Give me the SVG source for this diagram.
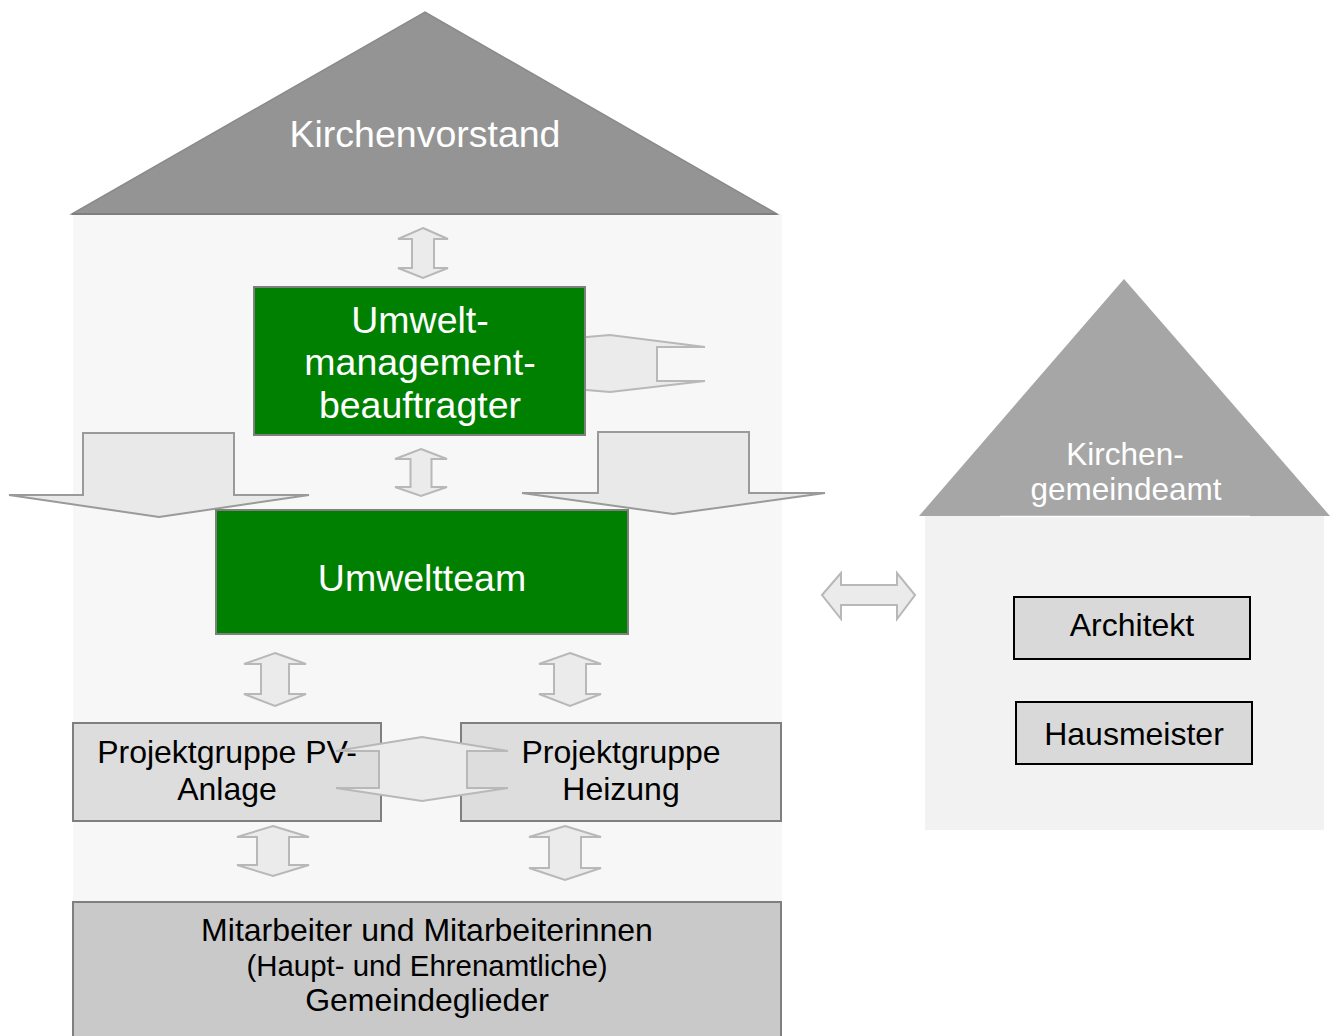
<svg xmlns="http://www.w3.org/2000/svg" width="1333" height="1036" viewBox="0 0 1333 1036">
<style>
text{font-family:"Liberation Sans",Arial,sans-serif;text-anchor:middle}
.w{fill:#ffffff}
.k{fill:#000000}
.green{fill:#008000;stroke:#7f7f7f;stroke-width:2}
.proj{fill:#dddddd;stroke:#7f7f7f;stroke-width:2}
.small{fill:#d9d9d9;stroke:#000000;stroke-width:2}
.dbl{fill:#ebebeb;stroke:#b8b8b8;stroke-width:2;stroke-linejoin:miter}
.big{fill:#e9e9e9;stroke:#9a9a9a;stroke-width:2}
</style>
<rect width="1333" height="1036" fill="#ffffff"/>
<g id="house-left">
<rect x="73" y="214" width="709" height="822" fill="#f7f7f7"/>
<polygon points="72,214 425,12 777,214" fill="#949494" stroke="#8a8a8a" stroke-width="1.5"/>
<line x1="72" y1="214" x2="777" y2="214" stroke="#7f7f7f" stroke-width="2"/>
<text class="w" x="425" y="147" font-size="37.5">Kirchenvorstand</text>
</g>
<g id="house-right">
<rect x="925" y="516" width="399" height="314" fill="#f2f2f2"/>
<polygon points="919,516 1124,279 1330,516" fill="#a6a6a6"/>
<line x1="1000" y1="516.5" x2="1250" y2="516.5" stroke="#ffffff" stroke-width="1.5"/>
<text class="w" x="1125" y="465" font-size="31.5">Kirchen-</text>
<text class="w" x="1126" y="500" font-size="31.5">gemeindeamt</text>
</g>
<g id="pv">
<rect class="proj" x="73" y="723" width="308" height="98"/>
<text class="k" x="227" y="763" font-size="32">Projektgruppe PV-</text>
<text class="k" x="227" y="800" font-size="32">Anlage</text>
</g>
<g id="heizung">
<rect class="proj" x="461" y="723" width="320" height="98"/>
<text class="k" x="621" y="763" font-size="32">Projektgruppe</text>
<text class="k" x="621" y="800" font-size="32">Heizung</text>
</g>
<g id="mitarbeiter">
<rect x="73" y="902" width="708" height="140" fill="#c9c9c9" stroke="#7f7f7f" stroke-width="2"/>
<text class="k" x="427" y="941" font-size="32">Mitarbeiter und Mitarbeiterinnen</text>
<text class="k" x="427" y="976" font-size="29.4">(Haupt- und Ehrenamtliche)</text>
<text class="k" x="427" y="1011" font-size="32">Gemeindeglieder</text>
</g>
<g id="connectors">
<path class="dbl" d="M423,228 L448,239 L434,239 L434,268 L448,268 L423,278 L398,268 L412,268 L412,239 L398,239 Z"/>
<path class="dbl" d="M421,449 L447,459 L431.5,459 L431.5,487 L447,487 L421,496 L395,487 L410.5,487 L410.5,459 L395,459 Z"/>
<path class="dbl" d="M275,653 L306,664 L289,664 L289,694 L306,694 L275,706 L244,694 L261,694 L261,664 L244,664 Z"/>
<path class="dbl" d="M570,653 L601,664 L586,664 L586,694 L601,694 L570,706 L539,694 L554,694 L554,664 L539,664 Z"/>
<path class="dbl" d="M273,826 L309,837 L289,837 L289,865 L309,865 L273,876 L237,865 L257,865 L257,837 L237,837 Z"/>
<path class="dbl" d="M565,826 L601,837 L581,837 L581,868 L601,868 L565,880 L529,868 L549,868 L549,837 L529,837 Z"/>
<path class="dbl" d="M822,595 L841,573 L841,585 L897,585 L897,573 L915,595 L897,619 L897,605 L841,605 L841,619 Z"/>
<path class="dbl" d="M336,751 L422,737 L508,751 L467,751 L467,788 L508,788 L422,801 L336,788 L379,788 L379,751 Z"/>
<path class="dbl" d="M575,338 L610,335 L705,347 L657,347 L657,381 L705,381 L610,392 L575,389 Z"/>
<path class="big" d="M83,433 L234,433 L234,495 L309,495 L159,517 L9,495 L83,495 Z"/>
<path class="big" d="M598,432 L749,432 L749,493 L825,493 L673,514 L522,493 L598,493 Z"/>
</g>
<g id="umweltmanagementbeauftragter">
<rect class="green" x="254" y="287" width="331" height="148"/>
<text class="w" x="420" y="333" font-size="37.5">Umwelt-</text>
<text class="w" x="420" y="375" font-size="37.5">management-</text>
<text class="w" x="420" y="418" font-size="37.5">beauftragter</text>
</g>
<g id="umweltteam">
<rect class="green" x="216" y="510" width="412" height="124"/>
<text class="w" x="422" y="591" font-size="37.5">Umweltteam</text>
</g>
<g id="architekt">
<rect class="small" x="1014" y="597" width="236" height="62"/>
<text class="k" x="1132" y="636" font-size="32">Architekt</text>
</g>
<g id="hausmeister">
<rect class="small" x="1016" y="702" width="236" height="62"/>
<text class="k" x="1134" y="745" font-size="32">Hausmeister</text>
</g>
</svg>
